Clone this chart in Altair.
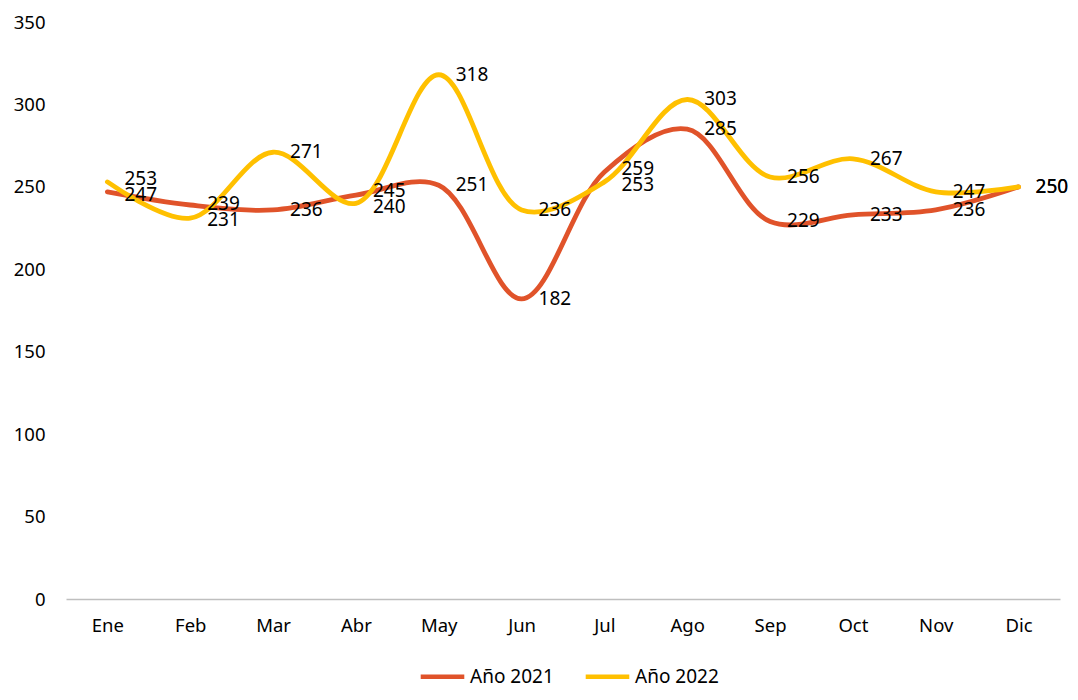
import altair as alt
import pandas as pd

months = ["Ene", "Feb", "Mar", "Abr", "May", "Jun", "Jul", "Ago", "Sep", "Oct", "Nov", "Dic"]
y2021 = [247, 239, 236, 245, 251, 182, 259, 285, 229, 233, 236, 250]
y2022 = [253, 231, 271, 240, 318, 236, 253, 303, 256, 267, 247, 250]
series = ["Año 2021", "Año 2022"]
colors = ["#E0532A", "#FFC000"]

PLOT_H = 577
Y_MAX = 350
MIN_SEP = 16  # minimum vertical separation (px) between the two labels of a month
PX_PER_UNIT = PLOT_H / Y_MAX

rows = []
for i, m in enumerate(months):
    a, b = y2021[i], y2022[i]
    gap = abs(a - b) * PX_PER_UNIT
    push = (MIN_SEP - gap) / 2 if (a != b and gap < MIN_SEP) else 0
    for s, v, other in ((series[0], a, b), (series[1], b, a)):
        shift = push if v > other else (-push if v < other else 0)
        rows.append({"Mes": m, "Valor": v, "Serie": s, "orden": i,
                     "pos": v + shift / PX_PER_UNIT})
df = pd.DataFrame(rows)

FONT = "Noto Sans"

x = alt.X("Mes:N", sort=months, scale=alt.Scale(type="point", padding=0.5),
          axis=alt.Axis(title=None, labelAngle=0, ticks=False, domain=True,
                        domainColor="#BFBFBF", domainWidth=1.3, labelPadding=17,
                        labelFontSize=18.5, labelColor="#000000", labelFont=FONT, grid=False))
yscale = alt.Scale(domain=[0, Y_MAX], nice=False)
y = alt.Y("Valor:Q", scale=yscale,
          axis=alt.Axis(title=None, values=[0, 50, 100, 150, 200, 250, 300, 350],
                        ticks=False, domain=False, grid=False, labelPadding=21,
                        labelFontSize=18.5, labelColor="#000000", labelFont=FONT))
color = alt.Color("Serie:N", scale=alt.Scale(domain=series, range=colors),
                  legend=alt.Legend(title=None, orient="none", direction="horizontal",
                                    legendX=352, legendY=630,
                                    symbolType="stroke", symbolSize=1900, symbolStrokeWidth=4.5,
                                    labelFontSize=19, labelFont=FONT, labelColor="#000000",
                                    columnPadding=22, labelOffset=3))

base = alt.Chart(df)
lines = base.mark_line(interpolate="catmull-rom", strokeWidth=4.8, strokeCap="round").encode(
    x=x, y=y, color=color, order="orden:Q")
labels = base.mark_text(align="left", baseline="middle", dx=17, fontSize=19, font=FONT,
                        color="#000000").encode(x=x, y=alt.Y("pos:Q", scale=yscale),
                                                text="Valor:Q", detail="Serie:N")

chart = alt.layer(lines, labels).properties(
    width=994, height=PLOT_H,
    autosize=alt.AutoSizeParams(type="none"),
    padding={"left": 58, "top": 14, "right": 10, "bottom": 90},
).configure_view(strokeWidth=0)

chart.save("out.html", embed_options={"renderer": "svg", "actions": False})
